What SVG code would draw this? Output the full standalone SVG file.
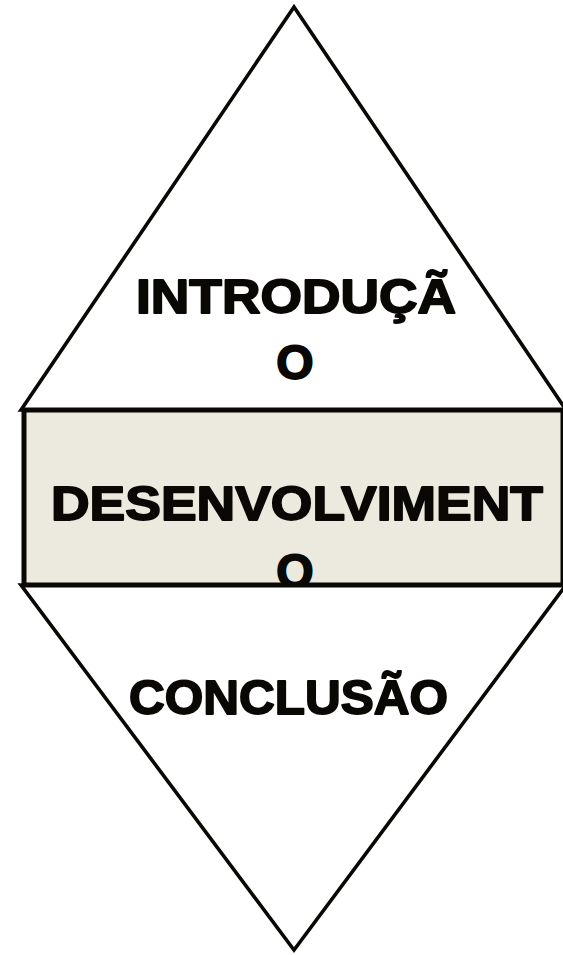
<svg xmlns="http://www.w3.org/2000/svg" width="563" height="955" viewBox="0 0 563 955">
<style>
.tri{fill:#ffffff;stroke:#0a0804;stroke-width:3.6;stroke-linejoin:miter}
.box{fill:#ECE9DF;stroke:#0a0804;stroke-width:5}
.lbl{font-family:"Liberation Sans",Arial,sans-serif;font-weight:bold;font-size:48px;fill:#0a0804;stroke:#0a0804;stroke-width:1.8;stroke-linejoin:round}
</style>
<defs>
<clipPath id="boxclip"><rect x="26" y="412" width="535" height="171"/></clipPath>
</defs>
<rect width="563" height="955" fill="#ffffff"/>
<g id="introducao">
<polygon class="tri" points="294,7 21,410 566,410"/>
<text class="lbl" x="136" y="313" textLength="320" lengthAdjust="spacingAndGlyphs">INTRODUÇÃ</text>
<text class="lbl" x="295" y="379" text-anchor="middle">O</text>
</g>
<g id="conclusao">
<polygon class="tri" points="21,585 566,585 294,950"/>
<text class="lbl" x="129" y="714" textLength="319" lengthAdjust="spacingAndGlyphs">CONCLUSÃO</text>
</g>
<g id="desenvolvimento">
<rect class="box" x="24" y="410" width="539" height="175"/>
<g clip-path="url(#boxclip)">
<text class="lbl" x="51" y="520" textLength="492" lengthAdjust="spacingAndGlyphs">DESENVOLVIMENT</text>
<text class="lbl" x="295" y="588" text-anchor="middle">O</text>
</g>
</g>
</svg>
